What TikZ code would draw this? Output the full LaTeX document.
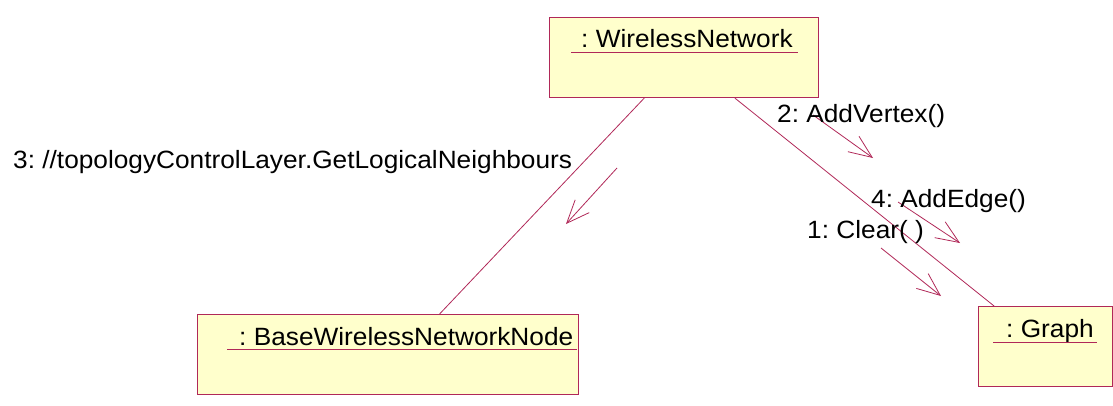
\documentclass[tikz,border=0pt]{standalone}
\usepackage{fontspec}
\setmainfont[FakeStretch=1.05]{Liberation Sans}
\usetikzlibrary{arrows.meta,calc}
\definecolor{umlline}{RGB}{176,40,88}
\definecolor{umlfill}{RGB}{255,255,204}
\frenchspacing
\begin{document}
\begin{tikzpicture}[x=1pt,y=-1pt,
  objbox/.style={draw=umlline,fill=umlfill,line width=1pt,inner sep=0pt},
  objname/.style={anchor=base west,inner sep=0pt,font=\fontsize{25}{29}\selectfont},
  msglabel/.style={anchor=base west,inner sep=0pt,font=\fontsize{25}{29}\selectfont},
  link/.style={draw=umlline,line width=0.8pt},
  uline/.style={draw=umlline,line width=0.8pt},
  msg/.style={draw=umlline,line width=0.8pt,-{Straight Barb[length=23pt,width=19pt,line width=0.8pt]}}]
\useasboundingbox (0,0) rectangle (1113,405);

% objects
\node[objbox,minimum width=269pt,minimum height=80pt,anchor=north west] (wn) at (549,17) {};
\node[objbox,minimum width=381pt,minimum height=80pt,anchor=north west] (bn) at (197,314) {};
\node[objbox,minimum width=134pt,minimum height=80pt,anchor=north west] (gr) at (978,306) {};

\node[objname] (wnt) at (581,47) {: WirelessNetwork};
\node[objname] (bnt) at (239,345) {: BaseWirelessNetworkNode};
\node[objname] (grt) at (1006,337) {: Graph};

% underlines of the object names
\coordinate (wnu1) at (571,52);  \coordinate (wnu2) at (798,52);
\coordinate (bnu1) at (227,349); \coordinate (bnu2) at (577,349);
\coordinate (gru1) at (993,342); \coordinate (gru2) at (1097,342);
\draw[uline] (wnu1) -- (wnu2);
\draw[uline] (bnu1) -- (bnu2);
\draw[uline] (gru1) -- (gru2);

% links
\draw[link] ($(wn.south west)!0.353!(wn.south east)$) -- ($(bn.north west)!0.635!(bn.north east)$);
\draw[link] ($(wn.south west)!0.688!(wn.south east)$) -- ($(gr.north west)!0.119!(gr.north east)$);

% messages
\coordinate (m2a) at (813,115); \coordinate (m2b) at (873,158);
\coordinate (m4a) at (898,202); \coordinate (m4b) at (960,243);
\coordinate (m1a) at (881,248); \coordinate (m1b) at (941,296);
\coordinate (m3a) at (617,168); \coordinate (m3b) at (566,224);
\draw[msg] (m2a) -- (m2b);
\draw[msg] (m4a) -- (m4b);
\draw[msg] (m1a) -- (m1b);
\draw[msg] (m3a) -- (m3b);

\node[msglabel] (l2) at (777,122) {2: AddVertex()};
\node[msglabel] (l4) at (871,207) {4: AddEdge()};
\node[msglabel] (l1) at (807,238) {1: Clear( )};
\node[msglabel] (l3) at (13,168) {3: //topologyControlLayer.GetLogicalNeighbours};
\end{tikzpicture}
\end{document}
